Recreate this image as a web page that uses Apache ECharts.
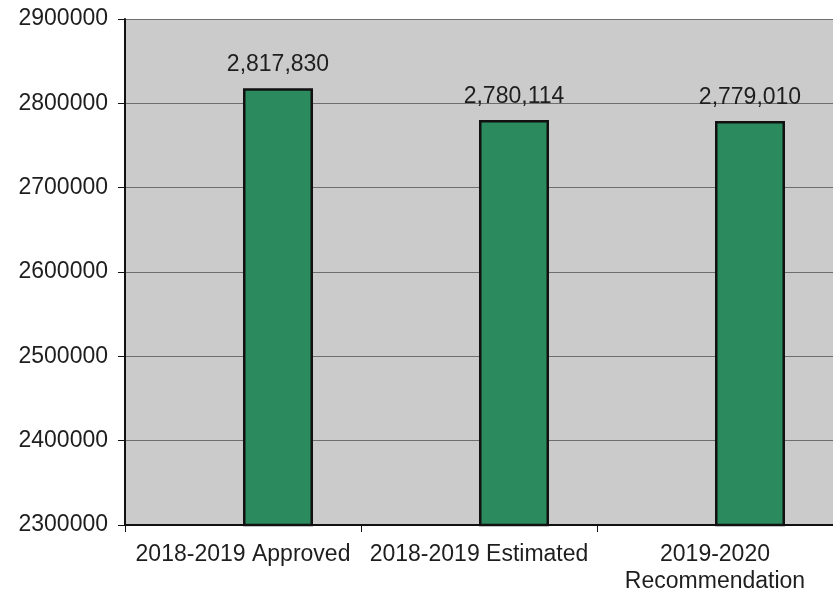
<!DOCTYPE html>
<html>
<head>
<meta charset="utf-8">
<title>Budget comparison</title>
<script src="https://cdn.jsdelivr.net/npm/echarts@6/dist/echarts.min.js"></script>
<style>
  html, body { margin: 0; padding: 0; background: #ffffff; }
  #chart { width: 833px; height: 599px; }
</style>
</head>
<body>
<div id="chart"></div>
<script>
// Budget figures by category
const categories = ['2018-2019 Approved', '2018-2019 Estimated', '2019-2020\nRecommendation'];
const amounts = [2817830, 2780114, 2779010];
const yTicks = [2300000, 2400000, 2500000, 2600000, 2700000, 2800000, 2900000];

const font = '"Liberation Sans", Arial, sans-serif';
const withCommas = v => String(v).replace(/\B(?=(\d{3})+(?!\d))/g, ',');

const chart = echarts.init(document.getElementById('chart'), null, { renderer: 'canvas' });

chart.setOption({
  animation: false,
  backgroundColor: '#ffffff',
  grid: {
    left: 125, right: 0, top: 19, bottom: 74,
    show: true, backgroundColor: '#cbcbcb', borderWidth: 0
  },
  xAxis: {
    type: 'category',
    data: categories,
    axisLine: { show: true, lineStyle: { color: '#111', width: 2 } },
    axisTick: { show: true, length: 7, lineStyle: { color: '#111', width: 1 } },
    axisLabel: {
      margin: 16, color: '#1e1e1e', fontFamily: font, fontSize: 23,
      lineHeight: 27, interval: 0
    },
    splitLine: { show: false }
  },
  yAxis: {
    type: 'value',
    min: yTicks[0],
    max: yTicks[yTicks.length - 1],
    interval: yTicks[1] - yTicks[0],
    axisLine: { show: true, lineStyle: { color: '#111', width: 2 } },
    axisTick: { show: true, length: 7, lineStyle: { color: '#111', width: 1 } },
    axisLabel: {
      margin: 17, color: '#1e1e1e', fontFamily: font, fontSize: 23,
      formatter: v => String(v)
    },
    splitLine: { show: true, lineStyle: { color: '#6e6e6e', width: 1 } }
  },
  series: [
    {
      // empty leading slot of the cluster
      type: 'bar',
      data: categories.map(() => null),
      barWidth: 70,
      barGap: '0%'
    },
    {
      type: 'bar',
      data: amounts,
      barWidth: 70,
      barGap: '0%',
      itemStyle: { color: '#2b8a5e', borderColor: '#111', borderWidth: 2.5 },
      label: {
        show: true, position: 'top', distance: 12,
        color: '#1e1e1e', fontFamily: font, fontSize: 23,
        formatter: p => withCommas(p.value)
      }
    }
  ]
});
</script>
</body>
</html>
